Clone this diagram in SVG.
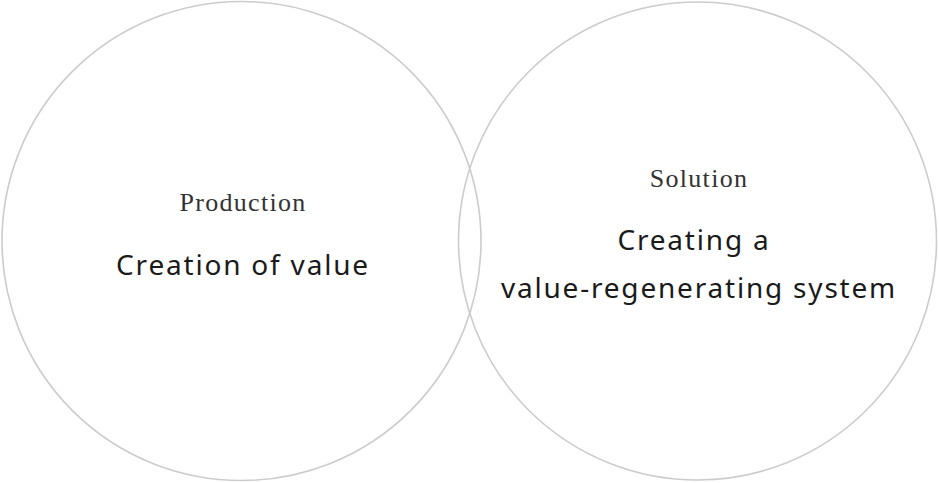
<svg xmlns="http://www.w3.org/2000/svg" width="939" height="483" viewBox="0 0 939 483">
<style>
.c{fill:none;stroke:#cccccc;stroke-width:1.6}
.t1{font-family:"Liberation Serif","DejaVu Serif",serif;font-size:26px;fill:#333;text-anchor:middle;letter-spacing:1.3px}
.t2{font-family:"Noto Sans","Liberation Sans",sans-serif;font-size:28px;fill:#1a1a1a;text-anchor:middle;letter-spacing:1.8px}
</style>
<rect width="939" height="483" fill="#fff"/>
<g id="production">
<circle class="c" cx="241.5" cy="241" r="239.5"/>
<text class="t1" x="243" y="211">Production</text>
<text class="t2" x="243" y="275">Creation of value</text>
</g>
<g id="solution">
<circle class="c" cx="697.5" cy="241" r="239"/>
<text class="t1" x="699" y="187">Solution</text>
<text class="t2" x="694" y="250">Creating a</text>
<text class="t2" x="699" y="298">value-regenerating system</text>
</g>
<g id="connectors"></g>
</svg>
